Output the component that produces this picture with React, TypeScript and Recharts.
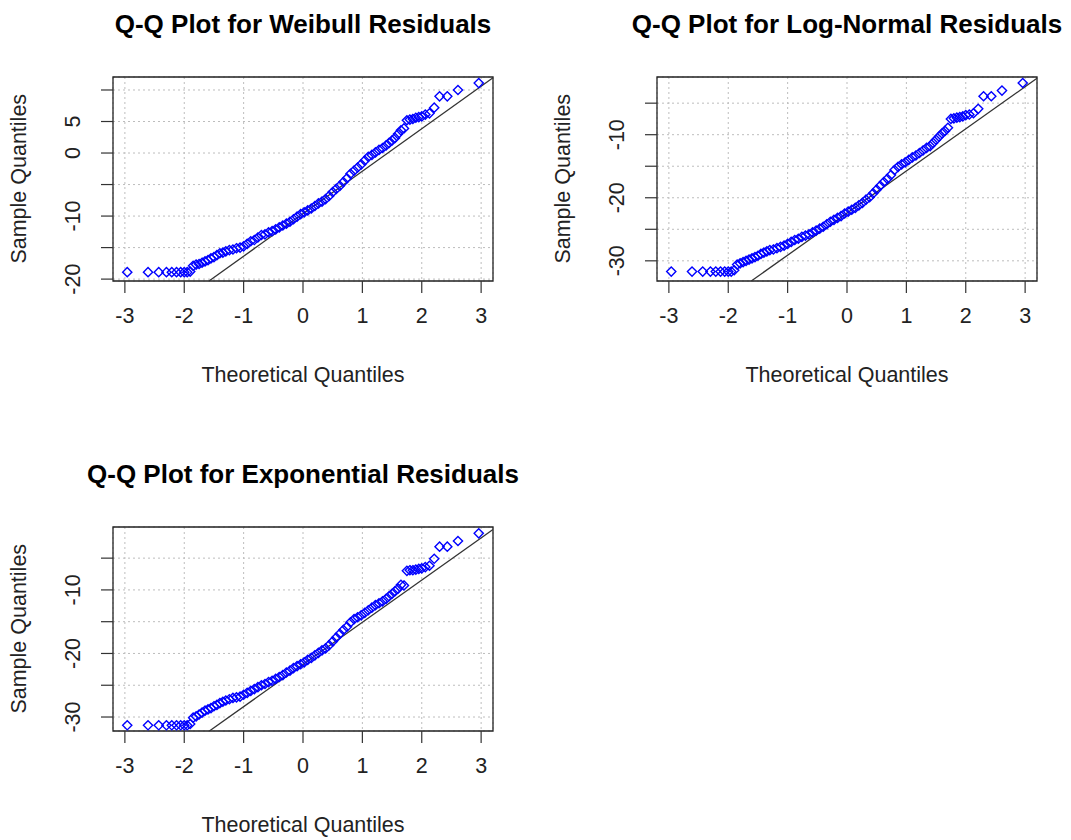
import React from "react";
import {
  ScatterChart,
  Scatter,
  XAxis,
  YAxis,
  CartesianGrid,
  ReferenceArea,
  ReferenceLine,
} from "recharts";

// theoretical normal quantiles (shared x positions)
const theoretical = [
  -2.96, -2.61, -2.43, -2.3, -2.21, -2.13, -2.06, -2.0, -1.95, -1.9,
  -1.85, -1.8, -1.75, -1.7, -1.65, -1.6, -1.55, -1.5, -1.45, -1.4,
  -1.35, -1.3, -1.24, -1.18, -1.12, -1.06, -1.0, -0.94, -0.88, -0.82,
  -0.76, -0.7, -0.64, -0.58, -0.52, -0.46, -0.4, -0.34, -0.28, -0.22,
  -0.16, -0.1, -0.04, 0.02, 0.08, 0.14, 0.2, 0.26, 0.32, 0.38,
  0.44, 0.5, 0.56, 0.62, 0.68, 0.74, 0.8, 0.86, 0.92, 0.98,
  1.04, 1.1, 1.16, 1.22, 1.28, 1.34, 1.4, 1.45, 1.5, 1.55,
  1.6, 1.65, 1.7, 1.75, 1.8, 1.85, 1.9, 1.95, 2.0, 2.06,
  2.13, 2.21, 2.3, 2.43, 2.61, 2.96,
];

const weibullSample = [
  -18.9, -18.9, -18.9, -18.9, -18.9, -18.9, -18.9, -18.9, -18.9, -18.8,
  -17.9, -17.7, -17.6, -17.4, -17.2, -17.0, -16.7, -16.5, -16.2, -15.9,
  -15.8, -15.6, -15.4, -15.3, -15.1, -15.0, -14.8, -14.4, -14.0, -13.8,
  -13.4, -13.0, -12.9, -12.6, -12.4, -12.1, -11.8, -11.5, -11.2, -10.9,
  -10.5, -10.1, -9.7, -9.4, -9.1, -8.8, -8.4, -8.0, -7.7, -7.3,
  -6.8, -6.2, -5.7, -5.2, -4.6, -4.0, -3.3, -2.8, -2.3, -1.8,
  -1.2, -0.6, -0.3, 0.1, 0.5, 0.8, 1.2, 1.6, 2.0, 2.4,
  3.0, 3.6, 3.9, 5.2, 5.3, 5.4, 5.6, 5.7, 5.8, 6.1,
  6.3, 7.2, 9.0, 9.0, 10.0, 11.1,
];

const logNormalSample = [
  -31.7, -31.7, -31.7, -31.7, -31.7, -31.7, -31.7, -31.7, -31.7, -31.5,
  -30.6, -30.4, -30.2, -30.0, -29.8, -29.6, -29.4, -29.2, -28.9, -28.7,
  -28.5, -28.3, -28.2, -28.0, -27.8, -27.6, -27.3, -27.0, -26.7, -26.5,
  -26.2, -26.0, -25.8, -25.5, -25.2, -24.9, -24.6, -24.2, -23.8, -23.5,
  -23.2, -22.9, -22.5, -22.2, -21.9, -21.6, -21.2, -20.8, -20.3, -19.9,
  -19.3, -18.7, -18.1, -17.5, -17.0, -16.4, -15.6, -15.1, -14.7, -14.4,
  -14.0, -13.6, -13.3, -12.9, -12.5, -12.1, -11.8, -11.3, -10.8, -10.3,
  -9.8, -9.4, -8.9, -7.5, -7.4, -7.3, -7.2, -7.1, -6.9, -6.8,
  -6.6, -5.9, -3.9, -3.9, -3.0, -1.8,
];

const exponentialSample = [
  -31.3, -31.3, -31.3, -31.3, -31.3, -31.3, -31.3, -31.3, -31.3, -31.1,
  -30.1, -29.9, -29.6, -29.3, -29.0, -28.8, -28.6, -28.3, -28.1, -27.8,
  -27.6, -27.4, -27.2, -27.0, -26.9, -26.8, -26.5, -26.2, -25.9, -25.6,
  -25.3, -25.0, -24.8, -24.5, -24.3, -24.0, -23.7, -23.4, -23.0, -22.7,
  -22.3, -22.0, -21.7, -21.4, -21.0, -20.7, -20.3, -19.9, -19.5, -19.2,
  -18.7, -18.1, -17.5, -16.9, -16.3, -15.8, -15.1, -14.6, -14.3, -14.0,
  -13.6, -13.2, -12.8, -12.4, -12.1, -11.8, -11.4, -11.0, -10.6, -10.2,
  -9.8, -9.2, -9.3, -7.0, -6.9, -6.9, -6.8, -6.7, -6.6, -6.4,
  -6.2, -5.1, -3.2, -3.2, -2.3, -1.1,
];

// qqline: [intercept, slope]
const weibullLine = [-9.63, 6.74];
const logNormalLine = [-22.43, 6.68];
const exponentialLine = [-21.73, 6.64];

const xTicks = [-3, -2, -1, 0, 1, 2, 3];
const weibullTicks = [-20, -15, -10, -5, 0, 5, 10];
const weibullLabels = [-20, -10, 0, 5];
const logNormalTicks = [-30, -25, -20, -15, -10, -5];
const logNormalLabels = [-30, -20, -10];
const exponentialTicks = [-30, -25, -20, -15, -10, -5];
const exponentialLabels = [-30, -20, -10];

const FONT = '"Liberation Sans", Arial, Helvetica, sans-serif';
const X_DOMAIN: [number, number] = [-3.2, 3.2];
const PLOT_LEFT = 113;
const PLOT_TOP = 77;
const PLOT_W = 380;
const PLOT_H = 204;
const CHART_H = 420;

const Diamond = (p: any) => {
  const { cx, cy } = p;
  if (cx == null || cy == null) return null;
  const r = 4.6;
  return (
    <path
      d={`M${cx},${cy - r}L${cx + r},${cy}L${cx},${cy + r}L${cx - r},${cy}Z`}
      fill="none"
      stroke="#0000ff"
      strokeWidth={1.4}
    />
  );
};

const XTick = (p: any) => (
  <text
    x={p.x}
    y={p.y + 28}
    textAnchor="middle"
    fontFamily={FONT}
    fontSize={21.5}
    fill="#222"
  >
    {p.payload.value}
  </text>
);

const makeYTick = (labels: number[]) => (p: any) => {
  if (!labels.includes(p.payload.value)) return <g />;
  const bx = p.x - 19;
  return (
    <text
      x={bx}
      y={p.y}
      transform={`rotate(-90 ${bx} ${p.y})`}
      textAnchor="middle"
      fontFamily={FONT}
      fontSize={21.5}
      fill="#222"
    >
      {p.payload.value}
    </text>
  );
};

function QQPanel({
  title,
  sample,
  yDomain,
  yTicks,
  yLabels,
  line,
  left,
  top,
}: {
  title: string;
  sample: number[];
  yDomain: [number, number];
  yTicks: number[];
  yLabels: number[];
  line: number[];
  left: number;
  top: number;
}) {
  const data = theoretical.map((x, i) => ({ x, y: sample[i] }));
  const [a, b] = line;
  const xs = Math.max(X_DOMAIN[0], (yDomain[0] - a) / b);
  const xe = Math.min(X_DOMAIN[1], (yDomain[1] - a) / b);
  const width = PLOT_LEFT + PLOT_W + 34;
  const cx = PLOT_LEFT + PLOT_W / 2;

  return (
    <div style={{ position: "absolute", left, top, width, height: CHART_H }}>
      <ScatterChart
        width={width}
        height={CHART_H}
        margin={{ top: PLOT_TOP, right: 34, bottom: CHART_H - PLOT_TOP - PLOT_H - 100, left: PLOT_LEFT - 100 }}
      >
        <CartesianGrid stroke="#bdbdbd" strokeDasharray="2 3" />
        <XAxis
          type="number"
          dataKey="x"
          domain={X_DOMAIN}
          ticks={xTicks}
          interval={0}
          allowDataOverflow
          height={100}
          tickSize={12}
          tickMargin={2}
          axisLine={false}
          tickLine={{ stroke: "#333", strokeWidth: 1.2 }}
          tick={XTick}
        />
        <YAxis
          type="number"
          dataKey="y"
          domain={yDomain}
          ticks={yTicks}
          interval={0}
          allowDataOverflow
          width={100}
          tickSize={12}
          tickMargin={2}
          axisLine={false}
          tickLine={{ stroke: "#333", strokeWidth: 1.2 }}
          tick={makeYTick(yLabels)}
        />
        <ReferenceArea
          x1={X_DOMAIN[0]}
          x2={X_DOMAIN[1]}
          y1={yDomain[0]}
          y2={yDomain[1]}
          fill="none"
          stroke="#222"
          strokeWidth={1.3}
          ifOverflow="visible"
        />
        <ReferenceLine
          segment={[
            { x: xs, y: a + b * xs },
            { x: xe, y: a + b * xe },
          ]}
          stroke="#333"
          strokeWidth={1.3}
          ifOverflow="visible"
        />
        <Scatter data={data} shape={Diamond} isAnimationActive={false} />
      </ScatterChart>
      <div
        style={{
          position: "absolute",
          left: cx - 300,
          top: 11,
          width: 600,
          textAlign: "center",
          fontFamily: FONT,
          fontWeight: "bold",
          fontSize: 26,
          lineHeight: "26px",
          color: "#000",
          whiteSpace: "nowrap",
        }}
      >
        {title}
      </div>
      <div
        style={{
          position: "absolute",
          left: cx - 150,
          top: 364.8,
          width: 300,
          textAlign: "center",
          fontFamily: FONT,
          fontSize: 21.5,
          lineHeight: "21.5px",
          color: "#222",
        }}
      >
        Theoretical Quantiles
      </div>
      <div
        style={{
          position: "absolute",
          left: 20 - 150,
          top: PLOT_TOP + PLOT_H / 2 - 10.75,
          width: 300,
          height: 21.5,
          textAlign: "center",
          fontFamily: FONT,
          fontSize: 21.5,
          lineHeight: "21.5px",
          color: "#222",
          transform: "rotate(-90deg)",
        }}
      >
        Sample Quantiles
      </div>
    </div>
  );
}

export default function App() {
  return (
    <div
      style={{
        position: "absolute",
        left: 0,
        top: 0,
        width: 1071,
        height: 840,
        background: "#fff",
        overflow: "hidden",
      }}
    >
      <QQPanel
        title="Q-Q Plot for Weibull Residuals"
        sample={weibullSample}
        yDomain={[-20.3, 12.06]}
        yTicks={weibullTicks}
        yLabels={weibullLabels}
        line={weibullLine}
        left={0}
        top={0}
      />
      <QQPanel
        title="Q-Q Plot for Log-Normal Residuals"
        sample={logNormalSample}
        yDomain={[-33.2, -0.85]}
        yTicks={logNormalTicks}
        yLabels={logNormalLabels}
        line={logNormalLine}
        left={544}
        top={0}
      />
      <QQPanel
        title="Q-Q Plot for Exponential Residuals"
        sample={exponentialSample}
        yDomain={[-32.2, -0.1]}
        yTicks={exponentialTicks}
        yLabels={exponentialLabels}
        line={exponentialLine}
        left={0}
        top={450}
      />
    </div>
  );
}
